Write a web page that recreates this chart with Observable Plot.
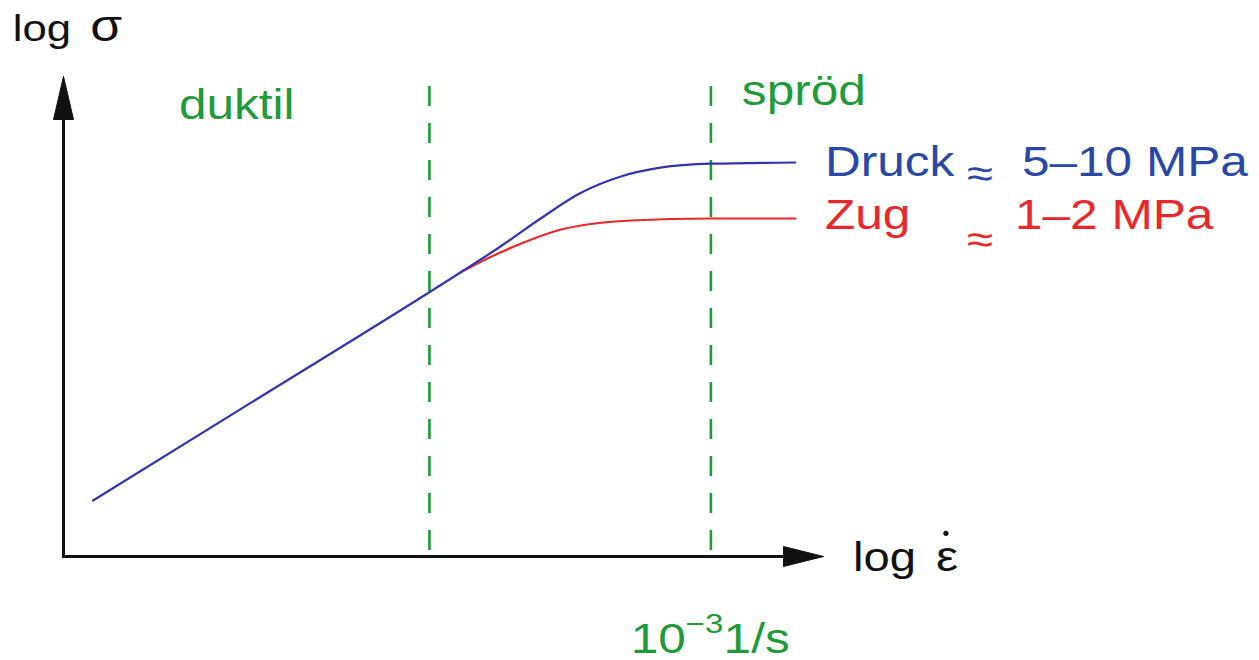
<!DOCTYPE html>
<html><head><meta charset="utf-8">
<script src="https://cdn.jsdelivr.net/npm/d3@7"></script>
<script src="https://cdn.jsdelivr.net/npm/@observablehq/plot@0.6"></script>
<style>body{margin:0;background:#fff}#chart{width:1259px;height:660px}</style>
</head><body><div id="chart"></div>
<script>
// log strain rate (x) and log stress (y), schematic units
const druckLogRate   = [-7.39, -6.27, -4.78, -4.495, -4.21, -3.93, -3.64, -3.36, -3.00, -2.40];
const druckLogStress = [-3.40, -2.18, -0.55, -0.225, 0.125, 0.44, 0.65, 0.76, 0.81, 0.825];
const zugLogRate     = [-4.78, -4.57, -4.33, -4.09, -3.855, -3.57, -3.00, -2.40];
const zugLogStress   = [-0.55, -0.36, -0.175, -0.025, 0.056, 0.10, 0.125, 0.125];
const regimeBounds   = [-5, -3];

const xDomain = [-7.6, -2.2];
const yDomain = [-4.1, 1.9];

const GREEN = "#1f9a3c", BLUE_LINE = "#3434b0", BLUE_TEXT = "#2c48a6", RED = "#e8282c";
const FONT = "'Liberation Sans', Arial, Helvetica, sans-serif";

const labels = [
  {t: "log",      x: -7.96, y: 2.35,  c: "#111", s: 37},
  {t: "σ",        x: -7.41, y: 2.35,  c: "#111", s: 44},
  {t: "duktil",   x: -6.78, y: 1.375, c: GREEN, s: 42},
  {t: "spröd",    x: -2.78, y: 1.55,  c: GREEN, s: 42},
  {t: "Druck",    x: -2.19, y: 0.66,  c: BLUE_TEXT, s: 42},
  {t: "≈",        x: -1.18, y: 0.525, c: BLUE_TEXT, s: 40},
  {t: "5–10 MPa", x: -0.79, y: 0.66,  c: BLUE_TEXT, s: 42},
  {t: "Zug",      x: -2.19, y: 0.0,   c: RED, s: 42},
  {t: "≈",        x: -1.18, y: -0.30, c: RED, s: 40},
  {t: "1–2 MPa",  x: -0.84, y: 0.0,   c: RED, s: 42},
  {t: "log",      x: -1.99, y: -4.275, c: "#111", s: 40},
  {t: "ε",        x: -1.40, y: -4.275, c: "#111", s: 42},
  {t: "10",       x: -3.57, y: -5.3,  c: GREEN, s: 42},
  {t: "−3",       x: -3.18, y: -5.05, c: GREEN, s: 28},
  {t: "1/s",      x: -2.91, y: -5.3,  c: GREEN, s: 42}
];
const rateDot = [{x: -1.33, y: -3.81}];

const druck = druckLogRate.map((x, i) => ({x, y: druckLogStress[i]}));
const zug = zugLogRate.map((x, i) => ({x, y: zugLogStress[i]}));

// axis geometry in data units
const pxX = (xDomain[1] - xDomain[0]) / (823 - 63);
const pxY = (yDomain[1] - yDomain[0]) / (556 - 76);
const x0 = xDomain[0], y0 = yDomain[0];
const xAxisLine = [{x: x0, y: y0}, {x: xDomain[1] - 38 * pxX, y: y0}];
const yAxisLine = [{x: x0, y: y0}, {x: x0, y: yDomain[1] - 40 * pxY}];
const xHead = [{x: xDomain[1], y: y0}, {x: xDomain[1] - 40 * pxX, y: y0 + 10 * pxY}, {x: xDomain[1] - 40 * pxX, y: y0 - 10 * pxY}, {x: xDomain[1], y: y0}];
const yHead = [{x: x0, y: yDomain[1]}, {x: x0 - 10 * pxX, y: yDomain[1] - 43 * pxY}, {x: x0 + 10 * pxX, y: yDomain[1] - 43 * pxY}, {x: x0, y: yDomain[1]}];

const textMarks = labels.map(d => Plot.text([d], {
  x: "x", y: "y", text: "t", fill: d.c, fontSize: d.s, fontFamily: FONT,
  textAnchor: "start", lineAnchor: "bottom"
}));

const svg = Plot.plot({
  width: 1259, height: 660,
  marginTop: 0, marginRight: 0, marginBottom: 0, marginLeft: 0,
  x: {domain: xDomain, range: [63, 823], axis: null},
  y: {domain: yDomain, range: [556, 76], axis: null},
  style: {background: "#fff"},
  marks: [
    Plot.ruleX(regimeBounds, {x: d => d, y1: 1.775, y2: y0, stroke: GREEN, strokeWidth: 2.6, strokeDasharray: "20,17"}),
    Plot.line(xAxisLine, {x: "x", y: "y", stroke: "#111", strokeWidth: 3}),
    Plot.line(yAxisLine, {x: "x", y: "y", stroke: "#111", strokeWidth: 3}),
    Plot.line(xHead, {x: "x", y: "y", fill: "#111", stroke: "#111", strokeWidth: 1}),
    Plot.line(yHead, {x: "x", y: "y", fill: "#111", stroke: "#111", strokeWidth: 1}),
    Plot.line(zug, {x: "x", y: "y", stroke: RED, strokeWidth: 2.2, curve: "monotone-x"}),
    Plot.line(druck, {x: "x", y: "y", stroke: BLUE_LINE, strokeWidth: 2.2, curve: "monotone-x"}),
    Plot.dot(rateDot, {x: "x", y: "y", r: 2.6, fill: "#111", stroke: null}),
    ...textMarks
  ]
});
document.getElementById("chart").appendChild(svg);
// the reference typeface is horizontally wider; stretch glyphs to match
d3.select(svg).selectAll("text").each(function() {
  const w = this.getComputedTextLength();
  this.setAttribute("textLength", (w * 1.18).toFixed(1));
  this.setAttribute("lengthAdjust", "spacingAndGlyphs");
});
</script></body></html>
